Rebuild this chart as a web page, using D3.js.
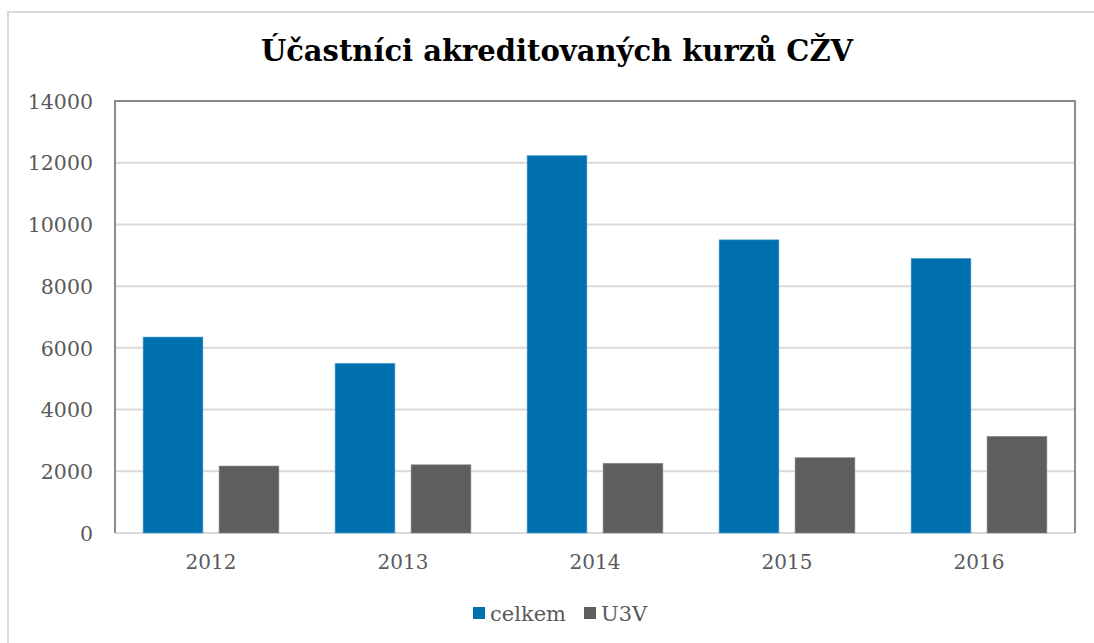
<!DOCTYPE html>
<html>
<head>
<meta charset="utf-8">
<script src="https://cdn.jsdelivr.net/npm/d3@7"></script>
<style>
  body { margin: 0; background: #fff; }
  svg text { font-family: "DejaVu Serif", Georgia, serif; }
</style>
</head>
<body>
<svg id="chart" width="1094" height="643"></svg>
<script>
// data
const years = ["2012", "2013", "2014", "2015", "2016"];
const celkem = [6350, 5500, 12230, 9500, 8900];
const u3v = [2170, 2210, 2260, 2440, 3130];
const seriesNames = ["celkem", "U3V"];
const yTicks = [0, 2000, 4000, 6000, 8000, 10000, 12000, 14000];

const colors = { celkem: "#006fad", U3V: "#5f5e5c" };

const svg = d3.select("#chart");
const margin = { left: 115, right: 1075, top: 101, bottom: 533 };

// outer frame
svg.append("path")
  .attr("d", "M8,643 L8,12 L1094,12")
  .attr("fill", "none")
  .attr("stroke", "#d9d9d9")
  .attr("stroke-width", 2);

// title
svg.append("text")
  .attr("x", 557).attr("y", 61)
  .attr("text-anchor", "middle")
  .attr("font-size", 29)
  .attr("font-weight", "bold")
  .attr("fill", "#000")
  .text("Účastníci akreditovaných kurzů CŽV");

// scales
const x = d3.scaleBand()
  .domain(years)
  .range([margin.left, margin.right]);

const x1 = d3.scaleBand()
  .domain(seriesNames)
  .range([0, x.bandwidth()])
  .paddingInner(0.213)
  .paddingOuter(0.37);

const y = d3.scaleLinear()
  .domain([0, 14000])
  .range([margin.bottom, margin.top]);

// gridlines
svg.append("g")
  .selectAll("line")
  .data(yTicks.filter(d => d > 0 && d < 14000))
  .enter().append("line")
  .attr("x1", margin.left).attr("x2", margin.right)
  .attr("y1", d => y(d)).attr("y2", d => y(d))
  .attr("stroke", "#d9d9d9")
  .attr("stroke-width", 2);

// bottom axis line
svg.append("line")
  .attr("x1", margin.left).attr("x2", margin.right)
  .attr("y1", margin.bottom).attr("y2", margin.bottom)
  .attr("stroke", "#d9d9d9")
  .attr("stroke-width", 2);

// bars
const rows = years.map((yr, i) => ({ year: yr, celkem: celkem[i], U3V: u3v[i] }));

svg.append("g")
  .selectAll("g")
  .data(rows)
  .enter().append("g")
  .attr("transform", d => `translate(${x(d.year)},0)`)
  .selectAll("rect")
  .data(d => seriesNames.map(k => ({ key: k, value: d[k] })))
  .enter().append("rect")
  .attr("x", d => x1(d.key))
  .attr("y", d => y(d.value))
  .attr("width", x1.bandwidth())
  .attr("height", d => y(0) - y(d.value))
  .attr("fill", d => colors[d.key])
  .attr("stroke", d => d.key === "celkem" ? "#4fa3d6" : "#8a8a8a")
  .attr("stroke-width", 0.6);

// plot border left, top, right
svg.append("path")
  .attr("d", `M${margin.left},${margin.bottom} L${margin.left},${margin.top} L${margin.right},${margin.top} L${margin.right},${margin.bottom}`)
  .attr("fill", "none")
  .attr("stroke", "#8c8c8c")
  .attr("stroke-width", 2);

// y axis labels
const yAxis = d3.axisLeft(y).tickValues(yTicks).tickFormat(d3.format("d")).tickSize(0).tickPadding(22);
const yg = svg.append("g")
  .attr("transform", `translate(${margin.left},0)`)
  .call(yAxis);
yg.select(".domain").remove();
yg.selectAll("text")
  .attr("font-family", "DejaVu Serif, serif")
  .attr("font-size", 20.5)
  .attr("fill", "#595959")
  .attr("dy", "0.35em");

// x axis labels
const xAxis = d3.axisBottom(x).tickSize(0).tickPadding(22);
const xg = svg.append("g")
  .attr("transform", `translate(0,${margin.bottom})`)
  .call(xAxis);
xg.select(".domain").remove();
xg.selectAll("text")
  .attr("font-family", "DejaVu Serif, serif")
  .attr("font-size", 20)
  .attr("fill", "#595959");

// legend
const legend = svg.append("g").attr("transform", "translate(473,607)");
const legX = { celkem: 0, U3V: 111 };
seriesNames.forEach(k => {
  const g = legend.append("g").attr("transform", `translate(${legX[k]},0)`);
  g.append("rect")
    .attr("width", 12).attr("height", 12)
    .attr("fill", colors[k]);
  g.append("text")
    .attr("x", 17).attr("y", 14)
    .attr("font-size", 21)
    .attr("fill", "#595959")
    .text(k);
});
</script>
</body>
</html>
